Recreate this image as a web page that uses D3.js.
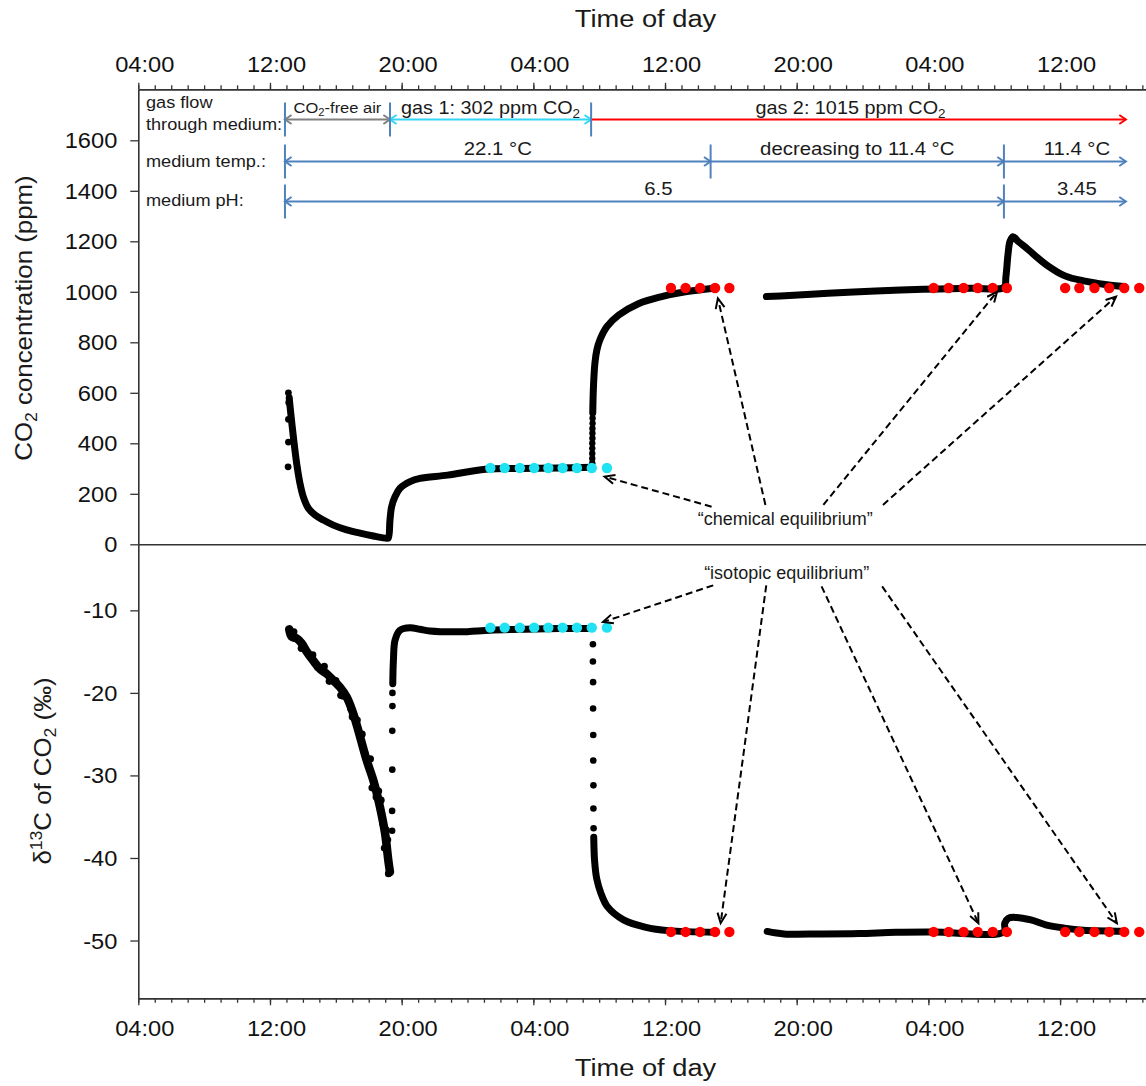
<!DOCTYPE html>
<html>
<head>
<meta charset="utf-8">
<script src="https://cdn.jsdelivr.net/npm/d3@7"></script>
<style>
  body { margin: 0; background: #fff; }
  svg { display: block; font-family: "Liberation Sans", Arial, sans-serif; }
</style>
</head>
<body>
<div id="graf"></div>
<script>
// time is in hours from midnight of the first day
const majorHours = [4, 12, 20, 28, 36, 44, 52, 60]
const minorHours = d3.range(4, 66)
const co2Ticks = [0, 200, 400, 600, 800, 1000, 1200, 1400, 1600]
const d13cTicks = [-10, -20, -30, -40, -50]

// CO2 concentration (ppm)
const co2Start = [[13.12, 600], [13.14, 562], [13.12, 495], [13.12, 405], [13.1, 307]]
const co2Trace1 = [[13.17, 580], [13.22, 545], [13.42, 426], [13.62, 321], [13.82, 242], [14.02, 189],
  [14.33, 143], [14.74, 116], [15.24, 96], [15.85, 76], [16.66, 57], [17.47, 44], [18.28, 33],
  [19.09, 24], [19.19, 25], [19.29, 96], [19.39, 149], [19.6, 189], [19.9, 222], [20.51, 248],
  [21.11, 261], [22.79, 274], [25.1, 297], [27.19, 300], [29.62, 302], [31.56, 305]]
const co2Rise = [[31.58, 321], [31.58, 340], [31.58, 360], [31.58, 380], [31.58, 400], [31.59, 420],
  [31.59, 440], [31.59, 459], [31.6, 479], [31.6, 499]]
const co2Trace2 = [[31.61, 520], [31.65, 620], [31.74, 717], [31.86, 770], [32.04, 809], [32.47, 862],
  [33.19, 908], [34.35, 952], [35.8, 981], [37.24, 1000], [38.98, 1014]]
const co2Trace3 = [[42.16, 981], [43.02, 983], [45.9, 994], [48.8, 1003], [51.69, 1010], [54.59, 1014],
  [56.59, 1018], [56.71, 1060], [56.84, 1150], [56.96, 1200], [57.14, 1218], [57.45, 1200],
  [58.05, 1168], [59.15, 1108], [60.3, 1063], [61.52, 1042], [62.73, 1029], [63.89, 1021]]

// delta 13C of CO2 (per mil)
const d13cTrace1 = [[13.17, -12.3], [13.32, -13.2], [13.62, -13.4], [13.93, -14.0], [14.23, -15.0],
  [14.63, -16.1], [15.04, -17.1], [15.45, -17.7], [15.85, -18.5], [16.25, -19.3], [16.66, -20.5],
  [17.06, -22.5], [17.47, -25.3], [17.88, -28.2], [18.28, -30.6], [18.68, -33.8], [18.99, -37.0],
  [19.19, -40.3], [19.29, -41.7]]
const d13cScatter = [[13.45, -12.6], [13.9, -14.6], [14.35, -15.3], [14.6, -15.4], [14.9, -16.9],
  [15.3, -16.8], [15.6, -18.6], [16.0, -18.5], [16.3, -20.3], [16.45, -20.4], [16.9, -21.9],
  [17.0, -22.9], [17.3, -23.3], [17.6, -25.0], [17.75, -27.2], [18.1, -28.0], [18.2, -31.5],
  [18.45, -32.6], [18.6, -31.9], [18.75, -33.0], [18.85, -35.8], [19.05, -36.6], [19.1, -39.1],
  [19.2, -41.9], [19.15, -37.8], [18.95, -38.8]]
const d13cRecover = [[19.42, -36.7], [19.42, -34.3], [19.43, -29.3], [19.43, -24.6], [19.44, -21.6],
  [19.44, -20.0]]
const d13cTrace2 = [[19.46, -18.9], [19.5, -16.0], [19.6, -13.6], [19.9, -12.4], [20.51, -12.1],
  [21.11, -12.3], [21.72, -12.5], [23.54, -12.6], [25.37, -12.4], [27.19, -12.3], [29.62, -12.2],
  [31.56, -12.2]]
const d13cDrop = [[31.62, -14.1], [31.62, -16.2], [31.63, -18.7], [31.63, -21.9], [31.64, -25.1],
  [31.64, -28.2], [31.65, -31.2], [31.65, -34.0], [31.66, -36.4]]
const d13cTrace3 = [[31.67, -37.5], [31.72, -40.3], [31.85, -42.5], [32.11, -44.3], [32.5, -45.9],
  [33.48, -47.5], [34.84, -48.4], [36.21, -48.8], [39.04, -49.0]]
const d13cTrace4 = [[42.21, -48.9], [43.23, -49.2], [45.51, -49.2], [47.78, -49.15], [50.03, -49.0],
  [52.32, -48.96], [56.59, -48.96], [56.64, -47.9], [56.86, -47.3], [57.32, -47.2], [58.23, -47.5],
  [59.13, -48.1], [60.27, -48.5], [61.39, -48.75], [63.67, -48.87], [63.89, -48.9]]

// equilibrium points
const cyanHours = [25.39, 26.26, 27.18, 28.05, 28.91, 29.78, 30.65, 31.55, 32.47]
const redHours = [36.36, 37.25, 38.13, 39.04, 39.91, 52.32, 53.23, 54.14, 55.0, 55.91, 56.77,
  60.31, 61.17, 62.09, 62.99, 63.9, 64.81]
const co2Gas1 = 302, co2Gas2 = 1015
const d13cGas1 = -12.1, d13cGas2 = -48.96

// experiment phases
const gasFlow = [
  { label: [["CO"], ["2", "sub"], ["-free air"]], from: 12.91, to: 19.29 },
  { label: [["gas 1: 302 ppm CO"], ["2", "sub"]], from: 19.29, to: 31.51 },
  { label: [["gas 2: 1015 ppm CO"], ["2", "sub"]], from: 31.51, to: 64.0 }]
const mediumTemp = [
  { label: [["22.1 °C"]], from: 12.91, to: 38.77 },
  { label: [["decreasing to 11.4 °C"]], from: 38.77, to: 56.59 },
  { label: [["11.4 °C"]], from: 56.59, to: 64.0 }]
const mediumPH = [
  { label: [["6.5"]], from: 12.91, to: 56.59 },
  { label: [["3.45"]], from: 56.59, to: 64.0 }]

// annotations [from hour, from value, tip hour, tip value]
const chemLabel = { t: 43.31, v: 103, text: "\u201cchemical equilibrium\u201d" }
const chemArrows = [[38.83, 149, 32.33, 268], [42.1, 156, 39.21, 974], [45.62, 156, 56.17, 1000],
  [49.24, 156, 63.4, 981]]
const isoLabel = { t: 43.39, v: -5.36, text: "\u201cisotopic equilibrium\u201d" }
const isoArrows = [[38.93, -6.97, 32.23, -11.42], [42.15, -6.97, 39.38, -47.9], [45.51, -7.09, 55.04, -47.9],
  [49.19, -7.09, 63.45, -47.9]]

// ---------------------------------------------------------------
const W = 1146, H = 1086
const SX = 1.1
const txt = "#1a1a1a"
const blue = "#4f81bd"

const svg = d3.select("#graf").append("svg").attr("width", W).attr("height", H)
svg.append("rect").attr("width", W).attr("height", H).attr("fill", "#fff")

const x = d3.scaleLinear().domain([4, 65.3]).range([138.3, 138.3 + 61.3 * 16.46])
const yTop = d3.scaleLinear().domain([0, 1802]).range([544.3, 89.3])
const yBot = d3.scaleLinear().domain([-57, -2]).range([998.3, 544.3])

const fmtHour = (h) => String(h % 24).padStart(2, "0") + ":00"

const styleAxis = (g) => {
  g.select(".domain").attr("stroke", "#333").attr("stroke-width", 1.6)
  g.selectAll(".tick line").attr("stroke", "#333").attr("stroke-width", 1.3)
  g.selectAll("text").attr("fill", "#111")
  g.attr("font-size", 21.5).attr("font-family", null)
}

const rich = (sel, parts, fs) => {
  let shift = 0
  parts.forEach(([s, kind]) => {
    const target = kind === "sub" ? fs * 0.22 : kind === "sup" ? -fs * 0.4 : 0
    const ts = sel.append("tspan").text(s).attr("dy", target - shift)
    if (kind) ts.attr("font-size", fs * 0.68)
    shift = target
  })
}

const label = (px, py, parts, fs, anchor, sx = SX, rot = 0) => {
  const t = svg.append("text")
    .attr("transform", `translate(${px},${py}) rotate(${rot}) scale(${sx},1)`)
    .attr("font-size", fs).attr("fill", txt).attr("text-anchor", anchor)
  rich(t, parts, fs)
  return t
}

// x axes, top and bottom
const yAxisTop = yTop.range()[1]
const yAxisBot = yBot.range()[0]
svg.append("g").attr("transform", `translate(0,${yAxisTop})`)
  .call(d3.axisTop(x).tickValues(minorHours).tickSize(4).tickSizeOuter(0).tickFormat(""))
  .call(styleAxis)
svg.append("g").attr("transform", `translate(0,${yAxisTop})`)
  .call(d3.axisTop(x).tickValues(majorHours).tickSize(6.5).tickSizeOuter(0).tickFormat(fmtHour))
  .call(styleAxis)
  .selectAll("text").attr("y", null).attr("dy", null)
  .attr("transform", `translate(6,-17) scale(${SX},1)`)

svg.append("g").attr("transform", `translate(0,${yAxisBot})`)
  .call(d3.axisBottom(x).tickValues(minorHours).tickSize(4.5).tickSizeOuter(0).tickFormat(""))
  .call(styleAxis)
svg.append("g").attr("transform", `translate(0,${yAxisBot})`)
  .call(d3.axisBottom(x).tickValues(majorHours).tickSize(7).tickSizeOuter(0).tickFormat(fmtHour))
  .call(styleAxis)
  .selectAll("text").attr("y", null).attr("dy", null)
  .attr("transform", `translate(6,37.7) scale(${SX},1)`)

// panel divider
svg.append("g").attr("transform", `translate(0,${yTop(0)})`)
  .call(d3.axisBottom(x).tickValues([]).tickSizeOuter(0))
  .call(styleAxis)

// y axes
svg.append("g").attr("transform", `translate(${x(4)},0)`)
  .call(d3.axisLeft(yTop).tickValues(co2Ticks).tickSize(8).tickSizeOuter(0).tickFormat(String))
  .call(styleAxis)
  .selectAll("text").attr("x", null).attr("dy", "0.35em")
  .attr("transform", `translate(-21,0) scale(${SX},1)`)
svg.append("g").attr("transform", `translate(${x(4)},0)`)
  .call(d3.axisLeft(yBot).tickValues(d13cTicks).tickSize(8).tickSizeOuter(0).tickFormat(String))
  .call(styleAxis)
  .selectAll("text").attr("x", null).attr("dy", "0.35em")
  .attr("transform", `translate(-21,0) scale(${SX},1)`)

// axis titles
label(645.5, 26.5, [["Time of day"]], 23.5, "middle", 1.16)
label(645.5, 1076, [["Time of day"]], 23.5, "middle", 1.16)
label(32, 318, [["CO"], ["2", "sub"], [" concentration (ppm)"]], 23.5, "middle", 1.1, -90)
label(51, 771, [["\u03b4"], ["13", "sup"], ["C of CO"], ["2", "sub"], [" (\u2030)"]], 23.5, "middle", 1.1, -90)

// data traces
const lineFor = (y) => d3.line().x((d) => x(d[0])).y((d) => y(d[1])).curve(d3.curveCatmullRom.alpha(0.5))
const trace = (y, data, w = 7) => svg.append("path").datum(data).attr("d", lineFor(y))
  .attr("fill", "none").attr("stroke", "#000").attr("stroke-width", w)
  .attr("stroke-linecap", "round").attr("stroke-linejoin", "round")
const dots = (y, data, r, color) => svg.append("g").selectAll("circle").data(data).join("circle")
  .attr("cx", (d) => x(d[0])).attr("cy", (d) => y(d[1])).attr("r", r).attr("fill", color)

;[co2Trace1, co2Trace2, co2Trace3].forEach((d) => trace(yTop, d))
dots(yTop, co2Start, 3.4, "#000")
dots(yTop, co2Rise, 3.2, "#000")
trace(yBot, d13cTrace1, 8.5)
;[d13cTrace2, d13cTrace3, d13cTrace4].forEach((d) => trace(yBot, d))
dots(yBot, d13cScatter, 3.6, "#000")
dots(yBot, d13cRecover, 3.3, "#000")
dots(yBot, d13cDrop, 3.3, "#000")

const cyan = "#1fe3f2", red = "#ff0000"
dots(yTop, cyanHours.map((h) => [h, co2Gas1]), 5.2, cyan)
dots(yTop, redHours.map((h) => [h, co2Gas2]), 5.2, red)
dots(yBot, cyanHours.map((h) => [h, d13cGas1]), 5.2, cyan)
dots(yBot, redHours.map((h) => [h, d13cGas2]), 5.2, red)

// arrow helpers
const head = (x1, y1, x2, y2, len, ang) => {
  const a = Math.atan2(y2 - y1, x2 - x1)
  const p1 = [x2 - len * Math.cos(a - ang), y2 - len * Math.sin(a - ang)]
  const p2 = [x2 - len * Math.cos(a + ang), y2 - len * Math.sin(a + ang)]
  return `M${p1}L${x2},${y2}L${p2}`
}

// phase rows
const drawRow = (segs, yPix, colors, heads, labelY, fs, shifts) => {
  segs.forEach((s, i) => {
    const x1 = x(s.from), x2 = x(s.to), c = colors[i]
    svg.append("line").attr("x1", x1).attr("x2", x2).attr("y1", yPix).attr("y2", yPix)
      .attr("stroke", c).attr("stroke-width", 2)
    let d = head(x1, yPix, x2, yPix, 8, 0.6)
    if (heads[i]) d += head(x2, yPix, x1, yPix, 8, 0.6)
    svg.append("path").attr("d", d).attr("fill", "none").attr("stroke", c).attr("stroke-width", 2)
    svg.append("line").attr("x1", x1).attr("x2", x1).attr("y1", yPix - 17).attr("y2", yPix + 17)
      .attr("stroke", blue).attr("stroke-width", 2)
    const f = Array.isArray(fs) ? fs[i] : fs
    const ly = Array.isArray(labelY) ? labelY[i] : labelY
    label((x1 + x2) / 2 + shifts[i], ly, s.label, f, "middle")
  })
}
drawRow(gasFlow, 119.5, ["#808080", "#33d6f5", red], [true, true, false], [112.5, 114, 114], [15, 18, 18], [0, 0, -8])
drawRow(mediumTemp, 161.5, [blue, blue, blue], [true, false, false], 154.5, 18.5, [0, 0, 12])
drawRow(mediumPH, 201.5, [blue, blue], [true, false], 195, 18.5, [14, 12])

label(146, 108, [["gas flow"]], 16.5, "start")
label(146, 130, [["through medium:"]], 16.5, "start")
label(146, 167, [["medium temp.:"]], 16.5, "start")
label(146, 205.5, [["medium pH:"]], 16.5, "start")

// equilibrium annotations
const dashArrows = (y, list) => list.forEach(([t1, v1, t2, v2]) => {
  const ax = x(t1), ay = y(v1), bx = x(t2), by = y(v2)
  svg.append("line").attr("x1", ax).attr("y1", ay).attr("x2", bx).attr("y2", by)
    .attr("stroke", "#000").attr("stroke-width", 2).attr("stroke-dasharray", "7,4")
  svg.append("path").attr("d", head(ax, ay, bx, by, 11, 0.42))
    .attr("fill", "none").attr("stroke", "#000").attr("stroke-width", 2)
})
dashArrows(yTop, chemArrows)
dashArrows(yBot, isoArrows)
label(x(chemLabel.t), yTop(chemLabel.v) + 6.5, [[chemLabel.text]], 18, "middle", 1)
label(x(isoLabel.t), yBot(isoLabel.v) + 6.5, [[isoLabel.text]], 18, "middle", 1)
</script>
</body>
</html>
